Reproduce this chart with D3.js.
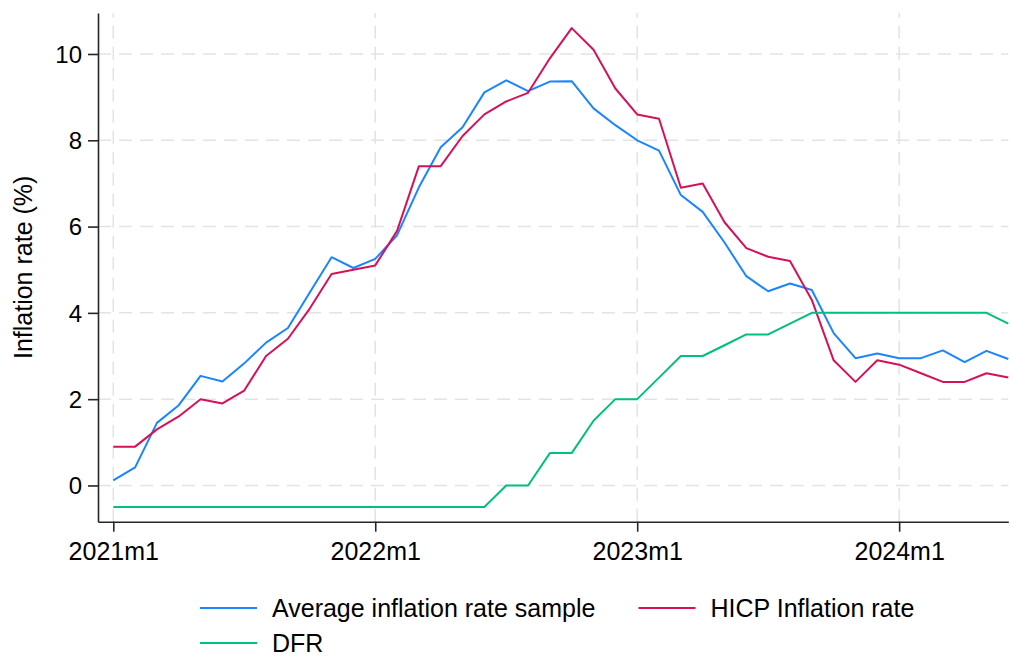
<!DOCTYPE html>
<html>
<head>
<meta charset="utf-8">
<script src="https://cdn.jsdelivr.net/npm/d3@7"></script>
<style>
  body { margin: 0; background: #fff; }
  text { font-family: "Liberation Sans", Arial, sans-serif; fill: #000; }
</style>
</head>
<body>
<svg></svg>
<script>
// monthly categories 2021m1 .. 2024m6
const monthLabels = d3.range(42).map(i => `${2021 + Math.floor(i / 12)}m${i % 12 + 1}`);

const avgInflation = [
  0.12, 0.42, 1.45, 1.86, 2.54, 2.41, 2.83, 3.31, 3.65, 4.47, 5.29, 5.04,
  5.25, 5.80, 6.91, 7.84, 8.30, 9.11, 9.39, 9.14, 9.36, 9.37, 8.74, 8.35,
  8.00, 7.76, 6.73, 6.34, 5.63, 4.85, 4.50, 4.68, 4.53, 3.53, 2.95, 3.06,
  2.95, 2.95, 3.13, 2.86, 3.12, 2.93
];
const hicpInflation = [
  0.9, 0.9, 1.3, 1.6, 2.0, 1.9, 2.2, 3.0, 3.4, 4.1, 4.9, 5.0,
  5.1, 5.9, 7.4, 7.4, 8.1, 8.6, 8.9, 9.1, 9.9, 10.6, 10.1, 9.2,
  8.6, 8.5, 6.9, 7.0, 6.1, 5.5, 5.3, 5.2, 4.3, 2.9, 2.4, 2.9,
  2.8, 2.6, 2.4, 2.4, 2.6, 2.5
];
const dfr = [
  -0.5, -0.5, -0.5, -0.5, -0.5, -0.5, -0.5, -0.5, -0.5, -0.5, -0.5, -0.5,
  -0.5, -0.5, -0.5, -0.5, -0.5, -0.5, 0, 0, 0.75, 0.75, 1.5, 2.0,
  2.0, 2.5, 3.0, 3.0, 3.25, 3.5, 3.5, 3.75, 4.0, 4.0, 4.0, 4.0,
  4.0, 4.0, 4.0, 4.0, 4.0, 3.75
];

const xTickLabels = ["2021m1", "2022m1", "2023m1", "2024m1"];
const yTicks = [0, 2, 4, 6, 8, 10];

const series = [
  { name: "Average inflation rate sample", values: avgInflation, color: "#1a85ff" },
  { name: "HICP Inflation rate", values: hicpInflation, color: "#d41159" },
  { name: "DFR", values: dfr, color: "#00bf7f" }
];

const width = 1011, height = 656;
const svg = d3.select("svg").attr("width", width).attr("height", height);

const x = d3.scaleLinear().domain([-0.7, 41]).range([98, 1008.3]);
const y = d3.scaleLinear().domain([-0.84, 10.95]).range([521.7, 13]);

// grid
const grid = svg.append("g");
grid.selectAll(".hgrid")
  .data(yTicks)
  .enter().append("line")
  .attr("x1", x.range()[0]).attr("x2", x.range()[1])
  .attr("y1", d => y(d)).attr("y2", d => y(d))
  .attr("stroke", "#e3e3e3").attr("stroke-width", 1.5)
  .attr("stroke-dasharray", "13,8");
grid.selectAll(".vgrid")
  .data(xTickLabels)
  .enter().append("line")
  .attr("x1", d => x(monthLabels.indexOf(d))).attr("x2", d => x(monthLabels.indexOf(d)))
  .attr("y1", y.range()[0]).attr("y2", y.range()[1])
  .attr("stroke", "#e3e3e3").attr("stroke-width", 1.5)
  .attr("stroke-dasharray", "13,8");

// lines
const line = d3.line()
  .x((d, i) => x(i))
  .y(d => y(d));

svg.append("g")
  .selectAll("path")
  .data(series)
  .enter().append("path")
  .attr("d", d => line(d.values))
  .attr("fill", "none")
  .attr("stroke", d => d.color)
  .attr("stroke-width", 2)
  .attr("stroke-linejoin", "round");

// axes
const xAxis = d3.axisBottom(x)
  .tickValues(xTickLabels.map(l => monthLabels.indexOf(l)))
  .tickFormat(i => monthLabels[i])
  .tickSize(10)
  .tickPadding(11)
  .tickSizeOuter(0);
const gx = svg.append("g")
  .attr("transform", `translate(0,${y.range()[0]})`)
  .call(xAxis);

const yAxis = d3.axisLeft(y)
  .tickValues(yTicks)
  .tickSize(10)
  .tickPadding(6)
  .tickSizeOuter(0);
const gy = svg.append("g")
  .attr("transform", `translate(${x.range()[0]},0)`)
  .call(yAxis);

[gx, gy].forEach(g => {
  g.select(".domain").attr("stroke", "#262626").attr("stroke-width", 1.6);
  g.selectAll(".tick line").attr("stroke", "#262626").attr("stroke-width", 1.6);
  g.selectAll(".tick text")
    .attr("font-family", "Liberation Sans, Arial, sans-serif")
    .attr("fill", "#000");
});
gx.selectAll(".tick text").attr("font-size", 25);
gy.selectAll(".tick text").attr("font-size", 24).attr("dy", "0.35em");

// y title
svg.append("text")
  .attr("transform", `translate(32,${(y.range()[0] + y.range()[1]) / 2}) rotate(-90)`)
  .attr("text-anchor", "middle")
  .attr("font-size", 25)
  .text("Inflation rate (%)");

// legend
const legendPos = [
  { lx: 200, ty: 608 },
  { lx: 638.5, ty: 608 },
  { lx: 200, ty: 643 }
];
const legend = svg.append("g")
  .selectAll("g")
  .data(series)
  .enter().append("g")
  .attr("transform", (d, i) => `translate(${legendPos[i].lx},${legendPos[i].ty})`);
legend.append("line")
  .attr("x1", 0).attr("x2", 57)
  .attr("stroke", d => d.color)
  .attr("stroke-width", 2);
legend.append("text")
  .attr("x", 72)
  .attr("dy", "0.35em")
  .attr("font-size", 25)
  .text(d => d.name);
</script>
</body>
</html>
